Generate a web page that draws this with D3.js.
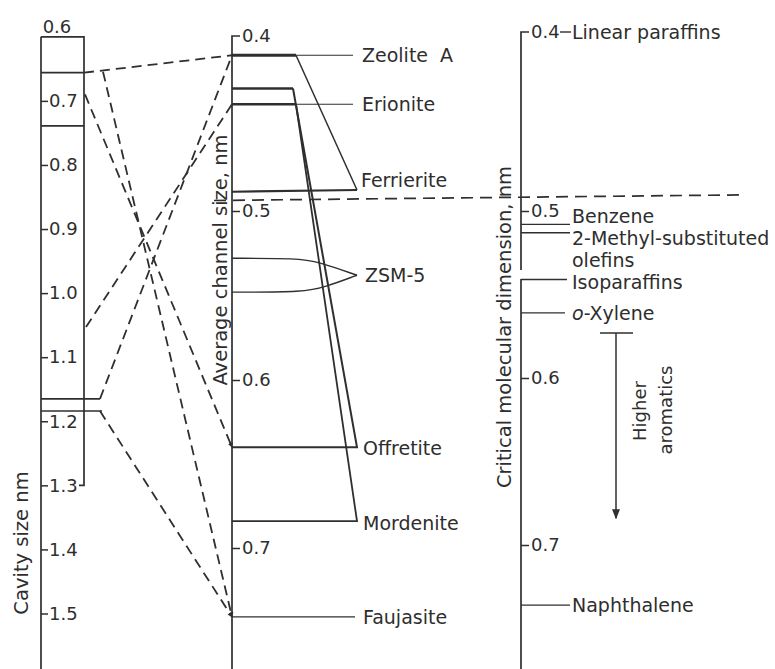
<!DOCTYPE html>
<html><head><meta charset="utf-8">
<script src="https://cdn.jsdelivr.net/npm/d3@7"></script>
<style>
html,body{margin:0;padding:0;background:#fff;}
svg text{font-family:"DejaVu Sans",sans-serif;fill:#2e2e2e;}
</style></head>
<body>
<svg id="c" width="775" height="669"></svg>
<script>
// ---------- data ----------
const cavityTicks = [0.7, 0.8, 0.9, 1.0, 1.1, 1.2, 1.3, 1.4, 1.5];
const cavityTopLabel = "0.6";
const cavityBox = [0.6, 1.3];
const cavityBandLines = [0.656, 0.739, 1.165, 1.184];

const channelTicks = [0.4, 0.5, 0.6, 0.7];
const zeoliteNames = ["Zeolite  A", "Erionite", "Ferrierite", "ZSM-5", "Offretite", "Mordenite", "Faujasite"];
const zeoliteLabelValues = [0.411, 0.439, 0.485, 0.538, 0.640, 0.684, 0.741];
const zeoliteATop = 0.411;
const erioniteTops = [0.430, 0.439];
const ferrieriteBottom = 0.489;
const zsm5Values = [0.528, 0.538, 0.548];
const offretiteBottom = 0.640;
const mordeniteBottom = 0.684;
const faujasiteValue = 0.741;

// cavity -> channel correlations (dashed)
const linkCavity  = [0.656, 0.656, 0.690, 1.165, 1.053, 1.184];
const linkChannel = [0.411, 0.741, 0.640, 0.411, 0.439, 0.741];

const criticalTicks = [0.4, 0.5, 0.6, 0.7];
const moleculeNames = ["Linear paraffins", "Benzene", "2-Methyl-substituted", "Isoparaffins", "o-Xylene", "Naphthalene"];
const moleculeValues = [0.4, 0.508, 0.513, 0.541, 0.561, 0.736];
const higherAromatics = [0.573, 0.684];
const cutoffChannel = 0.494;
const cutoffCritical = 0.491;

// ---------- layout ----------
const X_L = 41, X_BOX = 84, X_M = 232, X_R = 521;
const ink = "#2f2f2f";
const svg = d3.select("#c");

const cavityY = d3.scaleLinear().domain([0.6, 1.5]).range([36.8, 613.5]);
const channelY = d3.scaleLinear().domain(channelTicks).range([36, 211, 380, 548]);
const criticalY = d3.scaleLinear().domain(criticalTicks).range([32, 211, 378, 545]);

const defs = svg.append("defs");
defs.append("marker").attr("id", "ah").attr("viewBox", "0 0 10 10")
  .attr("refX", 9).attr("refY", 5).attr("markerWidth", 5).attr("markerHeight", 5)
  .attr("orient", "auto").attr("markerUnits", "userSpaceOnUse")
  .append("path").attr("d", "M0,0L10,5L0,10z").attr("fill", ink);
defs.append("marker").attr("id", "ah2").attr("viewBox", "0 0 10 10")
  .attr("refX", 9).attr("refY", 5).attr("markerWidth", 10).attr("markerHeight", 10)
  .attr("orient", "auto").attr("markerUnits", "userSpaceOnUse")
  .append("path").attr("d", "M0,1L10,5L0,9z").attr("fill", ink);

function styleAxis(g, fs) {
  g.select(".domain").remove();
  g.selectAll(".tick line").attr("stroke", ink).attr("stroke-width", 1.5);
  g.selectAll(".tick text").attr("font-size", fs).attr("fill", ink)
    .attr("font-family", "DejaVu Sans");
}

// ---------- left axis: cavity size ----------
svg.append("line").attr("x1", X_L).attr("x2", X_L).attr("y1", cavityY(cavityBox[0])).attr("y2", 669)
  .attr("stroke", ink).attr("stroke-width", 1.7);
svg.append("path")
  .attr("d", `M${X_L},${cavityY(cavityBox[0])}H${X_BOX}V${cavityY(cavityBox[1])}H${X_BOX - 5}`)
  .attr("fill", "none").attr("stroke", ink).attr("stroke-width", 1.7);
const bandExt = [X_BOX, X_BOX, X_BOX + 16, X_BOX + 18];
cavityBandLines.forEach((v, i) => {
  svg.append("line").attr("x1", X_L).attr("x2", bandExt[i]).attr("y1", cavityY(v)).attr("y2", cavityY(v))
    .attr("stroke", ink).attr("stroke-width", 1.7);
});
const gL = svg.append("g").attr("transform", `translate(${X_L},0)`)
  .call(d3.axisRight(cavityY).tickValues(cavityTicks).tickSize(7).tickPadding(1).tickFormat(d3.format(".1f")));
styleAxis(gL, 18);
svg.append("text").attr("x", 57).attr("y", 26).attr("text-anchor", "middle")
  .attr("dominant-baseline", "central").attr("font-size", 18).text(cavityTopLabel);
svg.append("text").attr("transform", `translate(21,${543}) rotate(-90)`)
  .attr("text-anchor", "middle").attr("dominant-baseline", "central").attr("font-size", 19.5)
  .text("Cavity size nm");

// ---------- middle axis: channel size ----------
svg.append("path").attr("d", `M${X_M + 8},${channelY(0.4)}H${X_M}V669`)
  .attr("fill", "none").attr("stroke", ink).attr("stroke-width", 1.7);
const gM = svg.append("g").attr("transform", `translate(${X_M},0)`)
  .call(d3.axisRight(channelY).tickValues(channelTicks).tickSize(8).tickPadding(2).tickFormat(d3.format(".1f")));
styleAxis(gM, 18);
gM.selectAll(".tick").filter(d => d === 0.4).select("line").remove();
svg.append("text").attr("transform", `translate(220,${260}) rotate(-90)`)
  .attr("text-anchor", "middle").attr("dominant-baseline", "central").attr("font-size", 19.5)
  .text("Average channel size, nm");

// zeolite shapes
const XA = 296, XT = 357;
const line = d3.line();
function P(x, v) { return [x, channelY(v)]; }
svg.append("path").attr("d", line([P(X_M, zeoliteATop), P(XA, zeoliteATop)]))
  .attr("stroke", ink).attr("stroke-width", 2.8).attr("fill", "none");
svg.append("path").attr("d", line([P(XA, zeoliteATop), P(353, zeoliteATop)]))
  .attr("stroke", ink).attr("stroke-width", 1.1).attr("fill", "none");
// Ferrierite
svg.append("path").attr("d", line([P(XA, zeoliteATop), P(XT, ferrieriteBottom - 0.001)]))
  .attr("stroke", ink).attr("stroke-width", 1.5).attr("fill", "none");
svg.append("path").attr("d", line([P(X_M, ferrieriteBottom), P(XT, ferrieriteBottom - 0.001)]))
  .attr("stroke", ink).attr("stroke-width", 2.2).attr("fill", "none");
// Erionite tops
svg.append("path").attr("d", line([P(X_M, erioniteTops[0]), P(293, erioniteTops[0])]))
  .attr("stroke", ink).attr("stroke-width", 2.4).attr("fill", "none");
svg.append("path").attr("d", line([P(X_M, erioniteTops[1]), P(296, erioniteTops[1])]))
  .attr("stroke", ink).attr("stroke-width", 2.4).attr("fill", "none");
svg.append("path").attr("d", line([P(296, erioniteTops[1]), P(353, erioniteTops[1])]))
  .attr("stroke", ink).attr("stroke-width", 1.1).attr("fill", "none");
// Offretite
svg.append("path").attr("d", line([P(293, erioniteTops[0]), P(XT, offretiteBottom), P(X_M, offretiteBottom)]))
  .attr("stroke", ink).attr("stroke-width", 2).attr("fill", "none");
// Mordenite
svg.append("path").attr("d", line([P(296, erioniteTops[1]), P(XT, mordeniteBottom), P(X_M, mordeniteBottom)]))
  .attr("stroke", ink).attr("stroke-width", 1.8).attr("fill", "none");
// ZSM-5
const curve = d3.line().curve(d3.curveBasis);
svg.append("path").attr("d", curve([P(X_M, zsm5Values[0]), P(298, zsm5Values[0]), P(318, zsm5Values[0] + 0.002), P(XT, zsm5Values[1])]))
  .attr("stroke", ink).attr("stroke-width", 1.4).attr("fill", "none");
svg.append("path").attr("d", curve([P(X_M, zsm5Values[2]), P(305, zsm5Values[2]), P(325, zsm5Values[2] - 0.003), P(XT, zsm5Values[1])]))
  .attr("stroke", ink).attr("stroke-width", 1.4).attr("fill", "none");
// Faujasite
svg.append("path").attr("d", line([P(X_M, faujasiteValue), P(355, faujasiteValue)]))
  .attr("stroke", ink).attr("stroke-width", 1.3).attr("fill", "none");

// labels
const labelX = [362, 362, 361, 365, 363, 363, 363];
const labelDy = [0, 0, -5, 0, 1, 2, 0];
zeoliteNames.forEach((n, i) => {
  svg.append("text").attr("x", labelX[i]).attr("y", channelY(zeoliteLabelValues[i]) + labelDy[i])
    .attr("dominant-baseline", "central").attr("font-size", 19)
    .attr("xml:space", "preserve").style("white-space", "pre").text(n);
});

// dashed correlation lines
const linkStartX = [X_BOX, 103, X_BOX + 1, 100, X_BOX + 2, 100];
const linkMarker = [null, "url(#ah)", "url(#ah)", null, null, "url(#ah)"];
linkCavity.forEach((c, i) => {
  svg.append("line")
    .attr("x1", linkStartX[i]).attr("y1", cavityY(c) + (i === 1 ? -1 : 0))
    .attr("x2", X_M).attr("y2", channelY(linkChannel[i]))
    .attr("stroke", ink).attr("stroke-width", 1.8).attr("stroke-dasharray", "10,6")
    .attr("marker-end", linkMarker[i]);
});

// ---------- right axis: critical molecular dimension ----------
const breakTop = 270, breakBottom = 279;
svg.append("path").attr("d", `M${X_R + 8},${criticalY(0.4)}H${X_R}V${breakTop}`)
  .attr("fill", "none").attr("stroke", ink).attr("stroke-width", 1.7);
svg.append("path").attr("d", `M${X_R},${breakBottom}V669`)
  .attr("fill", "none").attr("stroke", ink).attr("stroke-width", 1.7);
const gR = svg.append("g").attr("transform", `translate(${X_R},0)`)
  .call(d3.axisRight(criticalY).tickValues(criticalTicks).tickSize(8).tickPadding(2).tickFormat(d3.format(".1f")));
styleAxis(gR, 18);
gR.selectAll(".tick").filter(d => d === 0.4).select("line").remove();
svg.append("text").attr("transform", `translate(504,${327}) rotate(-90)`)
  .attr("text-anchor", "middle").attr("dominant-baseline", "central").attr("font-size", 19.5)
  .text("Critical molecular dimension, nm");

// cutoff dashed line
svg.append("line")
  .attr("x1", 214).attr("y1", channelY(cutoffChannel))
  .attr("x2", 740).attr("y2", criticalY(cutoffCritical))
  .attr("stroke", ink).attr("stroke-width", 1.7).attr("stroke-dasharray", "12,7");

// molecules
const molLineStart = [560, X_R, X_R, X_R, X_R, X_R];
const molLineEnd = [571, 570, 570, 567, 565, 570];
const molTextDy = [0, -8, 5, 3, 0, 0];
moleculeNames.forEach((n, i) => {
  const y = criticalY(moleculeValues[i]);
  svg.append("line").attr("x1", molLineStart[i]).attr("x2", molLineEnd[i]).attr("y1", y).attr("y2", y)
    .attr("stroke", ink).attr("stroke-width", 1.4);
  const t = svg.append("text").attr("x", 572).attr("y", y + molTextDy[i])
    .attr("dominant-baseline", "central").attr("font-size", 19);
  if (n.startsWith("o-")) {
    t.append("tspan").attr("font-style", "italic").text("o");
    t.append("tspan").text(n.slice(1));
  } else t.text(n);
});
svg.append("text").attr("x", 572).attr("y", criticalY(moleculeValues[2]) + 27)
  .attr("dominant-baseline", "central").attr("font-size", 19).text("olefins");

// higher aromatics arrow
const yA0 = criticalY(higherAromatics[0]), yA1 = criticalY(higherAromatics[1]);
svg.append("line").attr("x1", 600).attr("x2", 633).attr("y1", yA0).attr("y2", yA0)
  .attr("stroke", ink).attr("stroke-width", 1.5);
svg.append("line").attr("x1", 616).attr("x2", 616).attr("y1", yA0).attr("y2", yA1)
  .attr("stroke", ink).attr("stroke-width", 1.5).attr("marker-end", "url(#ah2)");
svg.append("text").attr("transform", `translate(639,${411}) rotate(-90)`)
  .attr("text-anchor", "middle").attr("dominant-baseline", "central").attr("font-size", 18).text("Higher");
svg.append("text").attr("transform", `translate(665,${410}) rotate(-90)`)
  .attr("text-anchor", "middle").attr("dominant-baseline", "central").attr("font-size", 18).text("aromatics");
</script>
</body></html>
